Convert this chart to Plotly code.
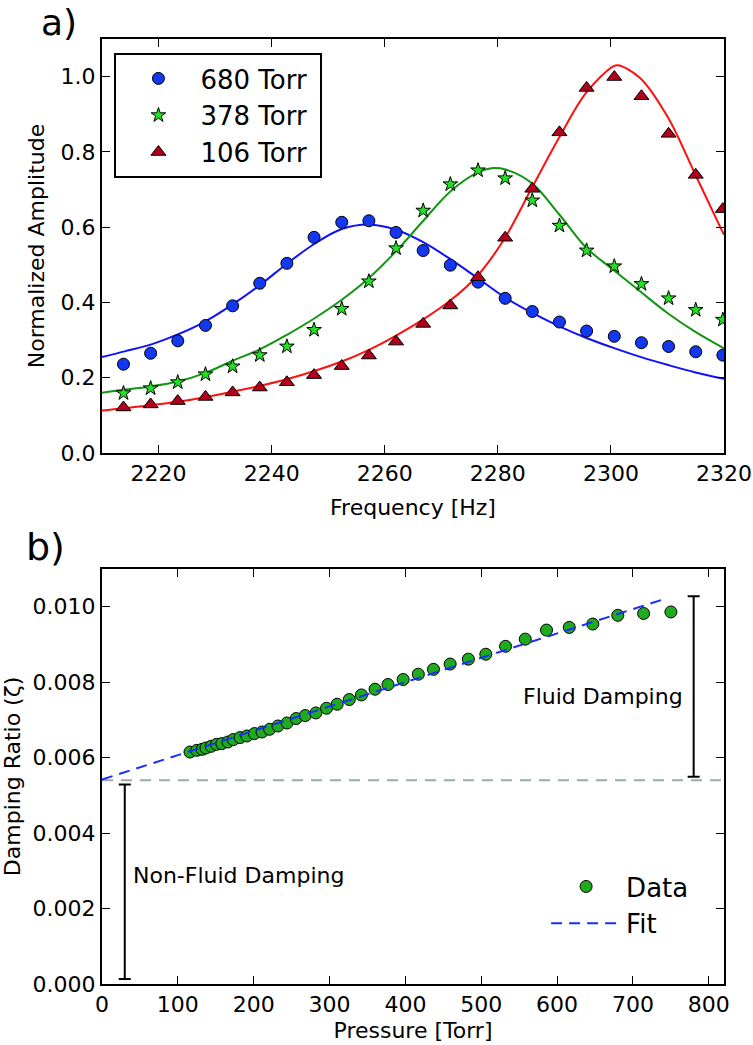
import plotly.graph_objects as go

# ---------------- Panel a) data ----------------
freq = [2213.8, 2218.6, 2223.4, 2228.3, 2233.1, 2237.9, 2242.7, 2247.5, 2252.4, 2257.2,
        2262.0, 2266.8, 2271.6, 2276.5, 2281.3, 2286.1, 2290.9, 2295.7, 2300.6, 2305.4,
        2310.2, 2315.0, 2319.8]
amp_680 = [0.236, 0.265, 0.298, 0.339, 0.391, 0.451, 0.504, 0.573, 0.613, 0.617,
           0.586, 0.538, 0.499, 0.454, 0.411, 0.376, 0.348, 0.324, 0.310, 0.293,
           0.283, 0.269, 0.260]
amp_378 = [0.159, 0.172, 0.188, 0.209, 0.230, 0.260, 0.283, 0.327, 0.383, 0.456,
           0.544, 0.644, 0.714, 0.751, 0.730, 0.671, 0.604, 0.538, 0.496, 0.449,
           0.411, 0.380, 0.354]
amp_106 = [0.121, 0.129, 0.138, 0.149, 0.161, 0.174, 0.188, 0.207, 0.231, 0.259,
           0.296, 0.343, 0.392, 0.467, 0.572, 0.702, 0.852, 0.970, 0.999, 0.948,
           0.848, 0.739, 0.648]

fit680_f = [2210, 2214, 2219, 2223.4, 2228.3, 2233.1, 2238, 2242.7, 2247.6, 2252.4, 2257.2,
            2262, 2266.8, 2271.6, 2276.4, 2281.2, 2286, 2291, 2295.8, 2300.7, 2305.5,
            2310.3, 2315, 2320]
fit680_a = [0.255, 0.270, 0.290, 0.315, 0.350, 0.395, 0.447, 0.503, 0.556, 0.595, 0.607,
            0.593, 0.560, 0.515, 0.465, 0.414, 0.373, 0.336, 0.305, 0.278, 0.254,
            0.233, 0.214, 0.197]
fit378_f = [2210, 2213.8, 2218.6, 2223.4, 2228.3, 2233.1, 2238, 2242.7, 2247.6, 2252.4,
            2257.2, 2262, 2266.7, 2271.6, 2276.4, 2279.1, 2281.2, 2286, 2290.8, 2295.6,
            2300.4, 2305.2, 2310, 2314.8, 2320]
fit378_a = [0.160, 0.168, 0.177, 0.190, 0.213, 0.245, 0.276, 0.314, 0.358, 0.407,
            0.465, 0.536, 0.615, 0.695, 0.745, 0.757, 0.754, 0.717, 0.635, 0.546,
            0.487, 0.429, 0.372, 0.323, 0.278]
fit106_f = [2210, 2213.8, 2223.4, 2233.1, 2242.7, 2252.4, 2257.2, 2262, 2266.8, 2271.6,
            2276.4, 2281.2, 2286, 2290.8, 2295.6, 2300.4, 2301.3, 2305.2, 2310, 2314.8,
            2319.4, 2320]
fit106_a = [0.113, 0.119, 0.136, 0.163, 0.196, 0.243, 0.274, 0.312, 0.355, 0.405,
            0.471, 0.570, 0.704, 0.837, 0.957, 1.027, 1.030, 0.996, 0.894, 0.744,
            0.598, 0.580]

# ---------------- Panel b) data ----------------
pressure = [116, 125, 132, 137, 144, 151, 158, 166, 173, 182, 191, 201, 211, 221, 232,
            244, 256, 268, 282, 296, 310, 326, 342, 360, 377, 397, 417, 437, 459, 483,
            506, 532, 558, 586, 616, 647, 680, 714, 750]
damping = [0.006148, 0.006193, 0.006220, 0.006255, 0.006300, 0.006353, 0.006371, 0.006414,
           0.006477, 0.006530, 0.006573, 0.006637, 0.006679, 0.006751, 0.006838, 0.006918,
           0.007035, 0.007114, 0.007184, 0.007308, 0.007414, 0.007539, 0.007661, 0.007813,
           0.007937, 0.008070, 0.008210, 0.008340, 0.008480, 0.008610, 0.008740, 0.008950,
           0.009140, 0.009380, 0.009450, 0.009540, 0.009770, 0.009820, 0.009860]
fit_p = [0, 741]
fit_z = [0.00542, 0.01020]
baseline = 0.0054
bar_x = [30, 780]
bar_lo = [0.00013, 0.00549]
bar_hi = [0.00529, 0.01028]

FONT = "DejaVu Sans"
fig = go.Figure()

# fits (top)
fig.add_trace(go.Scatter(x=fit680_f, y=fit680_a, mode="lines", line=dict(color="#1010ff", width=2, shape="spline"),
                         showlegend=False, xaxis="x", yaxis="y"))
fig.add_trace(go.Scatter(x=fit378_f, y=fit378_a, mode="lines", line=dict(color="#129612", width=2, shape="spline"),
                         showlegend=False, xaxis="x", yaxis="y"))
fig.add_trace(go.Scatter(x=fit106_f, y=fit106_a, mode="lines", line=dict(color="#ff1010", width=2, shape="spline"),
                         showlegend=False, xaxis="x", yaxis="y"))
# markers (top)
fig.add_trace(go.Scatter(x=freq, y=amp_680, mode="markers", name="680 Torr\u00a0",
                         marker=dict(symbol="circle", size=12, color="#1438f0", line=dict(color="black", width=1)),
                         xaxis="x", yaxis="y", legend="legend"))
fig.add_trace(go.Scatter(x=freq, y=amp_378, mode="markers", name="378 Torr\u00a0",
                         marker=dict(symbol="star", size=11, color="#22e022", line=dict(color="black", width=1)),
                         xaxis="x", yaxis="y", legend="legend"))
fig.add_trace(go.Scatter(x=freq, y=amp_106, mode="markers", name="106 Torr\u00a0",
                         marker=dict(symbol="triangle-up", size=13, color="#b2001c", line=dict(color="black", width=1)),
                         xaxis="x", yaxis="y", legend="legend"))

# bottom panel
mid = [(a + b) / 2 for a, b in zip(bar_lo, bar_hi)]
half = [(b - a) / 2 for a, b in zip(bar_lo, bar_hi)]
fig.add_trace(go.Scatter(x=bar_x, y=mid, mode="markers", marker=dict(size=0.1, color="black"),
                         error_y=dict(type="data", array=half, visible=True, color="black", thickness=2, width=6),
                         showlegend=False, xaxis="x2", yaxis="y2"))
fig.add_trace(go.Scatter(x=[0, 820], y=[baseline, baseline], mode="lines",
                         line=dict(color="#9aabab", width=2, dash="11px,8px"),
                         showlegend=False, xaxis="x2", yaxis="y2"))
fig.add_trace(go.Scatter(x=pressure, y=damping, mode="markers", name="Data",
                         marker=dict(symbol="circle", size=12, color="#1eab1e", line=dict(color="black", width=1)),
                         xaxis="x2", yaxis="y2", legend="legend2"))
fig.add_trace(go.Scatter(x=fit_p, y=fit_z, mode="lines", name="Fit",
                         line=dict(color="#1a2cff", width=2, dash="11px,7px"),
                         xaxis="x2", yaxis="y2", legend="legend2"))

axis_common = dict(showline=True, linecolor="black", linewidth=2, mirror="ticks", ticks="inside",
                   ticklen=8, tickwidth=1, tickcolor="black", showgrid=False, zeroline=False,
                   automargin=False,
                   tickfont=dict(family=FONT, size=22, color="black"))
TF = dict(size=22, family=FONT)

fig.update_layout(
    width=753, height=1045,
    margin=dict(l=102, r=29, t=39, b=61, autoexpand=False),
    paper_bgcolor="white", plot_bgcolor="white",
    font=dict(family=FONT, color="black"),
    xaxis=dict(domain=[0, 1], anchor="y", range=[2210, 2320], tick0=2220, dtick=20,
               title=dict(text="Frequency [Hz]", font=TF, standoff=14), **axis_common),
    yaxis=dict(domain=[0.5619, 1], anchor="x", range=[0, 1.1], dtick=0.2, tickformat=".1f",
               title=dict(text="Normalized Amplitude", font=TF, standoff=10), **axis_common),
    xaxis2=dict(domain=[0, 1], anchor="y2", range=[0, 820], dtick=100,
                title=dict(text="Pressure [Torr]", font=TF, standoff=6), **axis_common),
    yaxis2=dict(domain=[0, 0.4392], anchor="x2", range=[0, 0.011], dtick=0.002, tickformat=".3f",
                title=dict(text="Damping Ratio (ζ)", font=TF, standoff=8), **axis_common),
    legend=dict(x=0.02, y=0.9852, xanchor="left", yanchor="top", bgcolor="white",
                bordercolor="black", borderwidth=2, font=dict(size=26, family=FONT),
                itemwidth=74, tracegroupgap=4),
    legend2=dict(x=0.714, y=0.128, xanchor="left", yanchor="top", bgcolor="rgba(0,0,0,0)",
                 borderwidth=0, font=dict(size=26, family=FONT), itemwidth=70),
    annotations=[
        dict(text="a)", xref="paper", yref="paper", x=-0.102, y=1.0413, xanchor="left", yanchor="top",
             showarrow=False, font=dict(size=36, family=FONT)),
        dict(text="b)", xref="paper", yref="paper", x=-0.125, y=0.4624, xanchor="left", yanchor="middle",
             showarrow=False, font=dict(size=38, family=FONT)),
        dict(text="Non-Fluid Damping", xref="x2", yref="y2", x=38.5, y=0.002875, xanchor="left",
             yanchor="middle", showarrow=False, font=dict(size=22, family=FONT)),
        dict(text="Fluid Damping", xref="x2", yref="y2", x=768, y=0.00763, xanchor="right",
             yanchor="middle", showarrow=False, font=dict(size=22, family=FONT)),
    ],
)

fig.write_html("out.html", config={"displayModeBar": False},
               post_script="document.body.style.margin='0';document.documentElement.style.overflow='hidden';")
